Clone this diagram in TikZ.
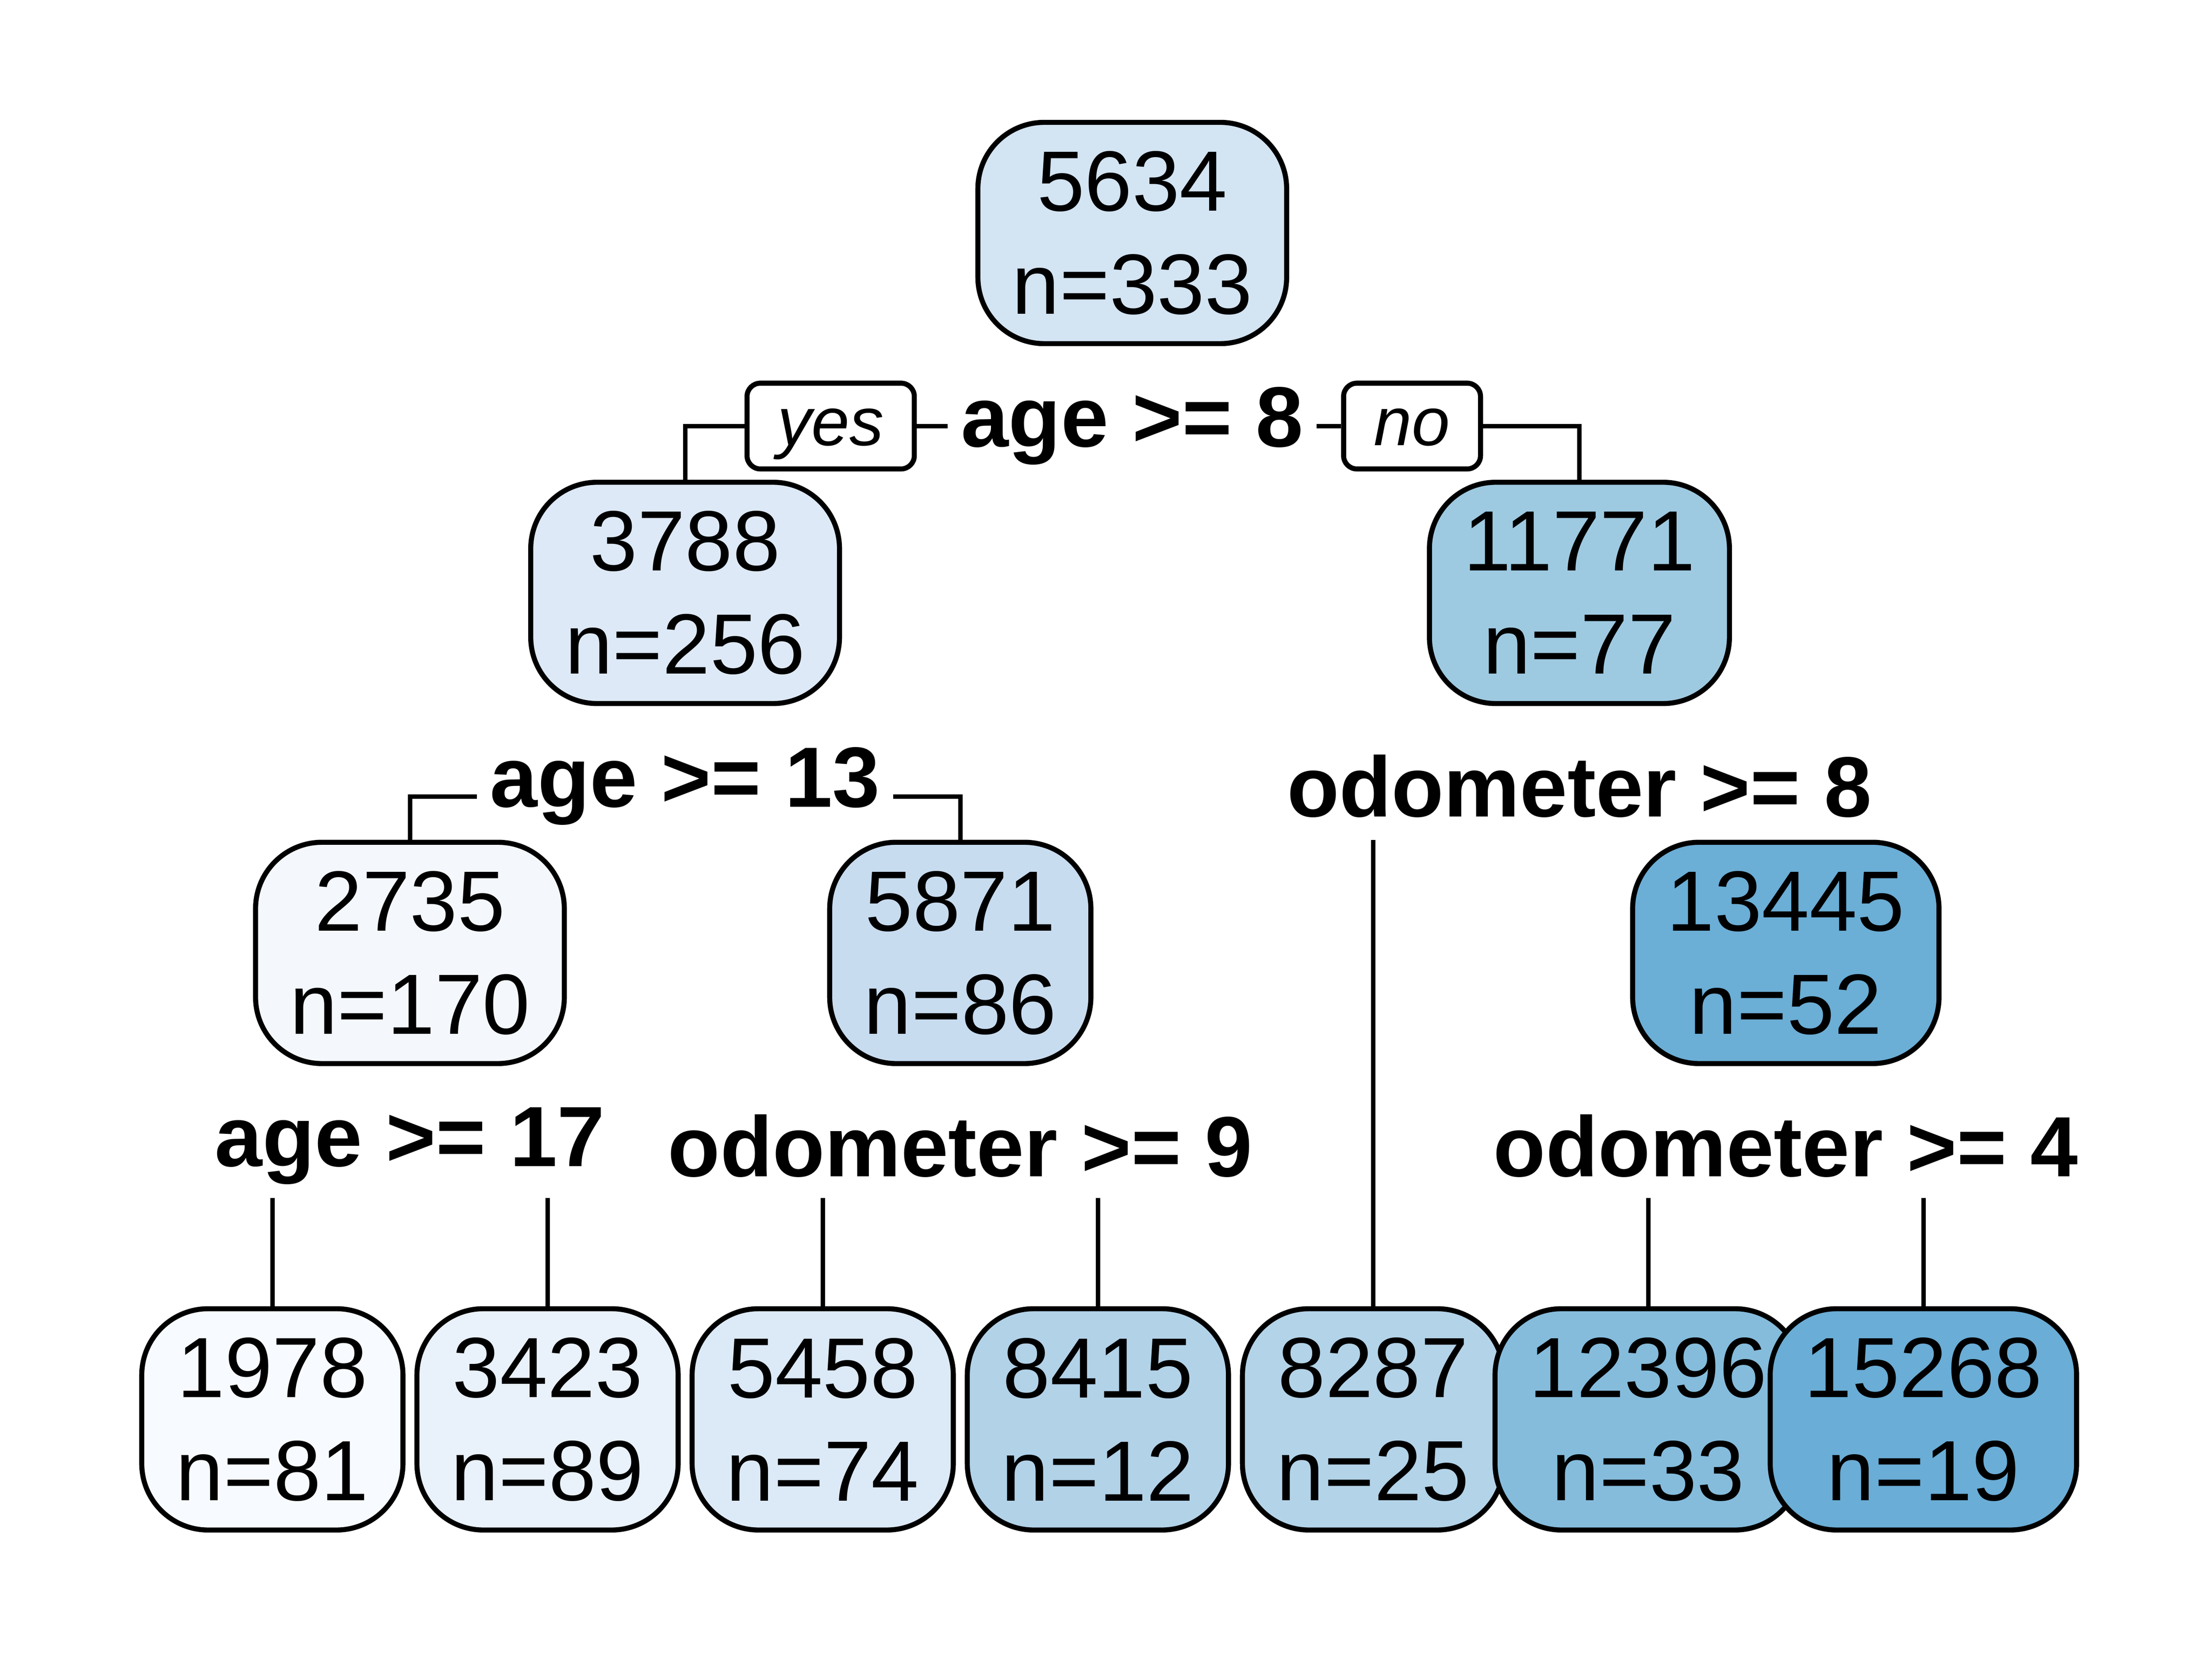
\documentclass[tikz,border=0pt]{standalone}
\usepackage{fontspec}
\setmainfont{Liberation Sans}
\usepackage{tikz}
\usetikzlibrary{positioning}

\definecolor{c1}{HTML}{D3E4F3}
\definecolor{c2}{HTML}{DDE9F6}
\definecolor{c3}{HTML}{9ECAE1}
\definecolor{c4}{HTML}{F4F8FD}
\definecolor{c5}{HTML}{C8DCF0}
\definecolor{c6}{HTML}{B3D3E8}
\definecolor{c7}{HTML}{6BAED6}
\definecolor{c8}{HTML}{F7FBFF}
\definecolor{c9}{HTML}{E9F1FA}
\definecolor{c10}{HTML}{DCE9F6}
\definecolor{c11}{HTML}{B2D2E8}
\definecolor{c14}{HTML}{85BCDC}
\definecolor{c15}{HTML}{6AADD6}

\begin{document}
\begin{tikzpicture}[node distance={24.88mm}, line width=1.15pt,
    main/.style = {draw, line width=1.3pt, rounded corners=6mm, align=center, minimum height=20mm, inner xsep=3.1mm, font=\fontsize{22}{26.5}\selectfont},
    split/.style = {inner sep=1mm, font=\fontsize{22}{26.5}\selectfont\bfseries},
    yesno/.style = {draw, line width=1.3pt, rounded corners=1.2mm, minimum height=7.75mm, inner xsep=2.75mm, text height=9.9pt, text depth=0pt, font=\fontsize{17.6}{21}\selectfont\itshape}]
		\useasboundingbox (0,0) rectangle (20,15);
		\node[main, fill=c1] (1) at (10.2375,12.894) {5634\\n=333};
		\node[main, fill=c2] (2) at (6.1945,9.641) {3788\\n=256};
		\node[main, fill=c3] (3) at (14.2805,9.641) {11771\\n=77};
		\node[main, fill=c4] (4) at (3.7065,6.387) {2735\\n=170};
		\node[main, fill=c5] (5) at (8.6825,6.387) {5871\\n=86};
		\node[main, fill=c7] (7) at (16.1465,6.387) {13445\\n=52};
		\node[main, fill=c8] (8) at (2.4625,2.171) {1978\\n=81};
		\node[main, fill=c9] (9) [right of=8] {3423\\n=89};
		\node[main, fill=c10] (10) [right of=9] {5458\\n=74};
		\node[main, fill=c11] (11) [right of=10] {8415\\n=12};
		\node[main, fill=c6] (6) [right of=11] {8287\\n=25};
		\node[main, fill=c14] (14) [right of=6] {12396\\n=33};
		\node[main, fill=c15] (15) [right of=14] {15268\\n=19};
		% split labels
		\node[split] (s1) [below of=1, node distance=17.45mm] {age >= 8};
		\node[split] (s2) [below of=2, node distance=17.45mm] {age >= 13};
		\node[split] (s3) [below of=3, node distance=17.45mm] {odometer >= 8};
		\node[split] (s4) [below of=4, node distance=17.45mm] {age >= 17};
		\node[split] (s5) [below of=5, node distance=17.45mm] {odometer >= 9};
		\node[split] (s7) [below of=7, node distance=17.45mm] {odometer >= 4};
		\node[yesno] (yes) [left=2.8mm of s1] {yes};
		\node[yesno] (no) [right=2.2mm of s1] {no};
		\draw (yes) -- (s1);
		\draw (s1) -- (no);
		\draw (yes) -| (2);
		\draw (no) -| (3);
		\draw (s2.mid west) -| (4);
		\draw (s2.mid east) -| (5);
		\coordinate (c6) at (6.north |- 7.north);
		\draw (c6) -- (6);
		\foreach \n in {8,9,10,11,14,15} {
			\coordinate (c\n) at ([yshift=9.8mm]\n.north);
			\draw (c\n) -- (\n);
		}
\end{tikzpicture}
\end{document}
